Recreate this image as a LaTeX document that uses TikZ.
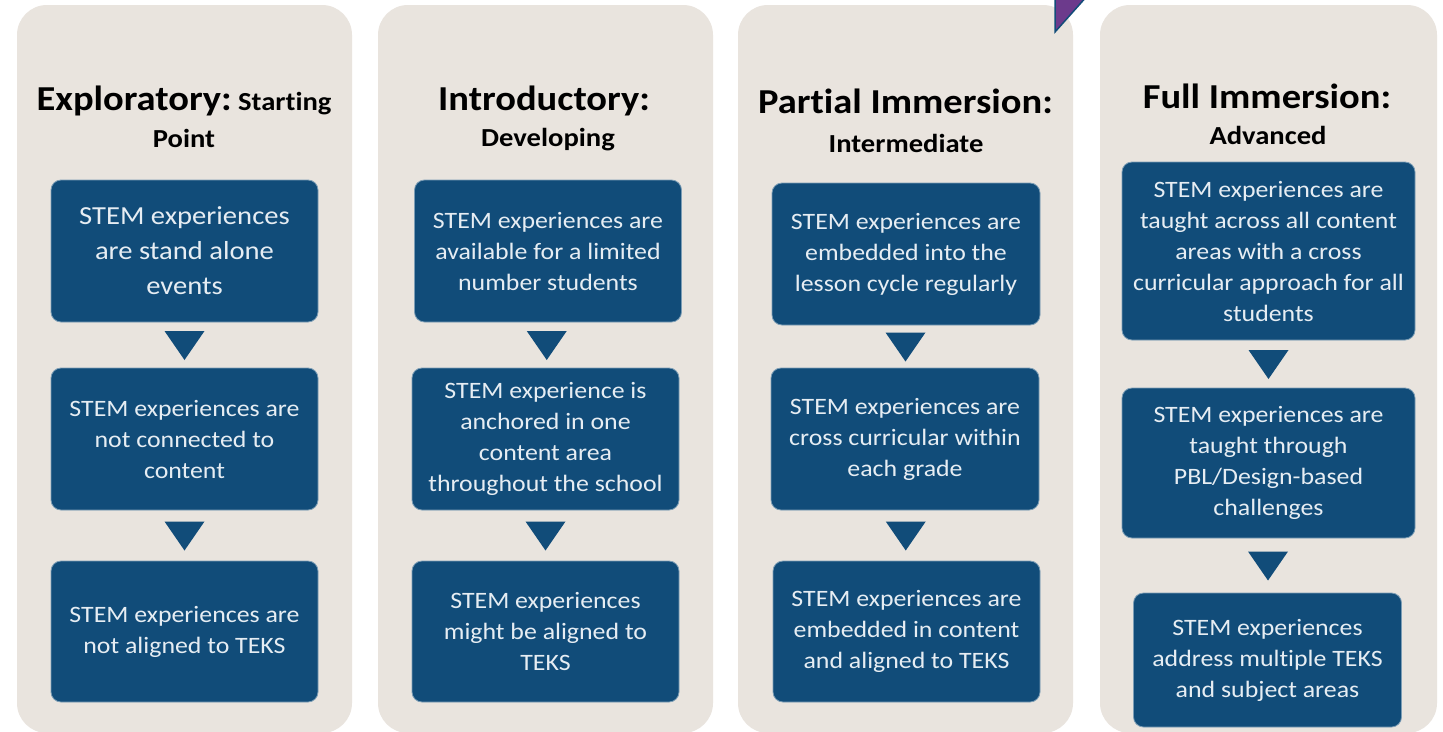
\documentclass[tikz,border=0pt]{standalone}
\usepackage{fontspec}
\setmainfont{Carlito}[FakeStretch=1.1, Ligatures=NoCommon]
\usetikzlibrary{calc}
\definecolor{navy}{RGB}{17,76,121}
\definecolor{panelbg}{RGB}{233,228,222}
\definecolor{boxtxt}{RGB}{230,237,243}
\definecolor{purp}{RGB}{108,58,140}
\begin{document}
\begin{tikzpicture}[x=1pt,y=-1pt,
  panel/.style={fill=panelbg, rounded corners=30pt},
  stepbox/.style={fill=navy, draw=navy!55!white, line width=0.8pt, rounded corners=10pt,
    text=boxtxt, align=center, inner sep=0pt,
    font=\fontsize{23.5}{31}\selectfont},
  bigbox/.style={stepbox, font=\fontsize{26}{35}\selectfont},
  ttl/.style={anchor=base, inner sep=0pt, font=\fontsize{35}{40}\selectfont\bfseries},
  sub/.style={anchor=base, inner sep=0pt, font=\fontsize{26}{30}\selectfont\bfseries},
  tri/.style={fill=navy}]
\useasboundingbox (0,0) rectangle (1443,731);
\fill[white] (0,0) rectangle (1443,731);
% panels
\fill[panel] (17,5) rectangle (352,733);
\fill[panel] (378,5) rectangle (713,733);
\fill[panel] (738,5) rectangle (1073,733);
\fill[panel] (1100,5) rectangle (1437,733);
% purple marker
\filldraw[fill=purp, draw=navy, line width=1.5pt] (1055,-5) -- (1055,32) -- (1088,-5) -- cycle;

% Panel 1
\node[ttl] (t1) at (184,110) {Exploratory:{\fontsize{26}{30}\selectfont\ Starting}};
\node[sub] (t1b) at (184,147) {Point};
\node[bigbox, minimum width=267pt, minimum height=142pt] (b11) at (184.5,251) {STEM experiences\\are stand alone\\events};
\node[stepbox, minimum width=267pt, minimum height=142pt] (b12) at (184.5,439) {STEM experiences are\\not connected to\\content};
\node[stepbox, minimum width=267pt, minimum height=141pt] (b13) at (184.5,631.5) {STEM experiences are\\not aligned to TEKS};

% Panel 2
\node[ttl] (t2) at (544,110) {Introductory:};
\node[sub] (t2b) at (548,146) {Developing};
\node[stepbox, minimum width=267pt, minimum height=142pt] (b21) at (548,251) {STEM experiences are\\available for a limited\\number students};
\node[stepbox, minimum width=267pt, minimum height=142pt] (b22) at (545.5,439) {STEM experience is\\anchored in one\\content area\\throughout the school};
\node[stepbox, minimum width=267pt, minimum height=141pt] (b23) at (545.5,631.5) {STEM experiences\\might be aligned to\\TEKS};

% Panel 3
\node[ttl] (t3) at (905.5,113) {Partial Immersion:};
\node[sub] (t3b) at (906,152) {Intermediate};
\node[stepbox, minimum width=268pt, minimum height=142pt] (b31) at (906,254) {STEM experiences are\\embedded into the\\lesson cycle regularly};
\node[stepbox, minimum width=268pt, minimum height=142pt] (b32) at (905,439) {STEM experiences are\\cross curricular within\\each grade};
\node[stepbox, minimum width=267pt, minimum height=141pt] (b33) at (906.5,631.5) {STEM experiences are\\embedded in content\\and aligned to TEKS};

% Panel 4
\node[ttl] (t4) at (1267,108) {Full Immersion:};
\node[sub] (t4b) at (1268,144) {Advanced};
\node[stepbox, minimum width=293pt, minimum height=178pt] (b41) at (1268.5,251) {STEM experiences are\\taught across all content\\areas with a cross\\curricular approach for all\\students};
\node[stepbox, minimum width=293pt, minimum height=150pt] (b42) at (1268.5,463) {STEM experiences are\\taught through\\PBL/Design-based\\challenges};
\node[stepbox, minimum width=268pt, minimum height=134pt] (b43) at (1267.5,660) {STEM experiences\\address multiple TEKS\\and subject areas};

% arrows (triangles) between boxes
\foreach \a/\b in {b11/b12,b12/b13,b21/b22,b22/b23,b31/b32,b32/b33,b41/b42,b42/b43}{
  \fill[tri] ($(\a.south)!0.5!(\b.north)$) +(-20,-14) -- +(20,-14) -- +(0,15) -- cycle;
}
\end{tikzpicture}
\end{document}
